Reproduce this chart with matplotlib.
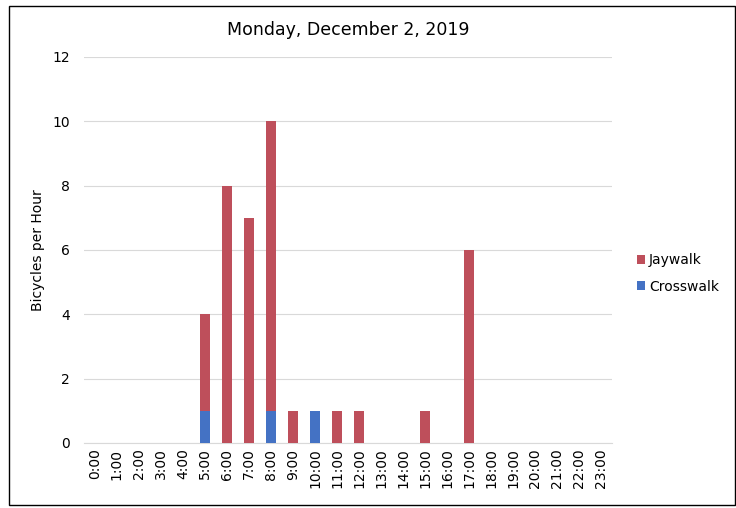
import matplotlib
matplotlib.use("Agg")
import matplotlib.pyplot as plt
from matplotlib.patches import Rectangle
import numpy as np

hours = [f"{h}:00" for h in range(24)]
crosswalk = [0, 0, 0, 0, 0, 1, 0, 0, 1, 0, 1, 0, 0, 0, 0, 0, 0, 0, 0, 0, 0, 0, 0, 0]
jaywalk = [0, 0, 0, 0, 0, 3, 8, 7, 9, 1, 0, 1, 1, 0, 0, 1, 0, 6, 0, 0, 0, 0, 0, 0]

fig = plt.figure(figsize=(7.36, 5.08), dpi=100)
ax = fig.add_axes([0.114, 0.128, 0.718, 0.76])

x = np.arange(len(hours))
ax.bar(x, crosswalk, width=0.45, color="#4472C4", label="Crosswalk", zorder=3)
ax.bar(x, jaywalk, width=0.45, bottom=crosswalk, color="#BE4F5B", label="Jaywalk", zorder=3)

ax.set_xlim(-0.5, 23.5)
ax.set_ylim(0, 12)
ax.set_yticks(range(0, 13, 2))
ax.set_xticks(x)
ax.set_xticklabels(hours, rotation=90, fontsize=10)
ax.tick_params(axis="y", labelsize=10, length=0, pad=10)
ax.tick_params(axis="x", length=0, pad=4)
ax.grid(axis="y", color="#D9D9D9", linewidth=0.8, zorder=0)
for s in ["top", "right", "left"]:
    ax.spines[s].set_visible(False)
ax.spines["bottom"].set_color("#D9D9D9")
ax.set_ylabel("Bicycles per Hour", fontsize=10, labelpad=5)
ax.set_title("Monday, December 2, 2019", fontsize=12.5, pad=16)

handles, labels = ax.get_legend_handles_labels()
fig.legend(handles[::-1], labels[::-1], loc="center left", bbox_to_anchor=(0.848, 0.462),
           frameon=False, fontsize=10, handlelength=0.6, handleheight=0.6, handletextpad=0.3,
           labelspacing=0.9)

fig.patches.append(Rectangle((0.012, 0.006), 0.986, 0.982, transform=fig.transFigure,
                             fill=False, edgecolor="black", linewidth=1))

fig.savefig("out.png", dpi=100)
